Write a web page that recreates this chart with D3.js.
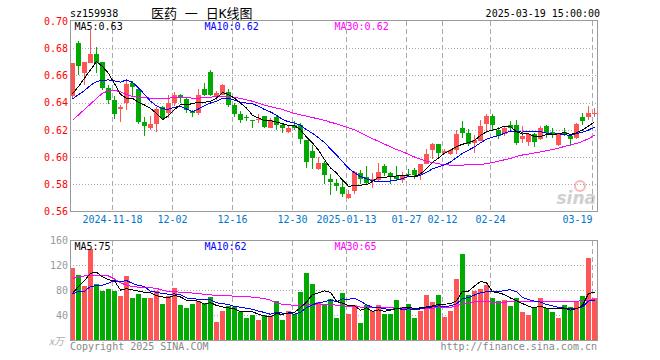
<!DOCTYPE html>
<html lang="zh">
<head>
<meta charset="UTF-8" />
<title>医药 日K线图</title>
<style>
  body { margin: 0; background: #fff; }
  svg { display: block; }
  text { font-family: "DejaVu Sans Mono", "Noto Sans CJK SC", monospace; font-size: 10px; }
  .frame { fill: none; stroke: #999; shape-rendering: crispEdges; }
  .hgrid { stroke: #aaa; stroke-dasharray: 1,2; shape-rendering: crispEdges; }
  .vgrid { stroke: #aaa; stroke-dasharray: 5,3; shape-rendering: crispEdges; }
  .ma { fill: none; stroke-width: 1; shape-rendering: crispEdges; }
  .axis path, .axis line { display: none; }
</style>
</head>
<body>
<svg width="660" height="360"></svg>
<script src="https://cdn.jsdelivr.net/npm/d3@7/dist/d3.min.js"></script>
<script>
// 交易日
const dates = [
  "2024-11-07","2024-11-08","2024-11-11","2024-11-12","2024-11-13","2024-11-14","2024-11-15",
  "2024-11-18","2024-11-19","2024-11-20","2024-11-21","2024-11-22","2024-11-25","2024-11-26",
  "2024-11-27","2024-11-28","2024-11-29","2024-12-02","2024-12-03","2024-12-04","2024-12-05",
  "2024-12-06","2024-12-09","2024-12-10","2024-12-11","2024-12-12","2024-12-13","2024-12-16",
  "2024-12-17","2024-12-18","2024-12-19","2024-12-20","2024-12-23","2024-12-24","2024-12-25",
  "2024-12-26","2024-12-27","2024-12-30","2024-12-31","2025-01-02","2025-01-03","2025-01-06",
  "2025-01-07","2025-01-08","2025-01-09","2025-01-10","2025-01-13","2025-01-14","2025-01-15",
  "2025-01-16","2025-01-17","2025-01-20","2025-01-21","2025-01-22","2025-01-23","2025-01-24",
  "2025-01-27","2025-02-05","2025-02-06","2025-02-07","2025-02-10","2025-02-11","2025-02-12",
  "2025-02-13","2025-02-14","2025-02-17","2025-02-18","2025-02-19","2025-02-20","2025-02-21",
  "2025-02-24","2025-02-25","2025-02-26","2025-02-27","2025-02-28","2025-03-03","2025-03-04",
  "2025-03-05","2025-03-06","2025-03-07","2025-03-10","2025-03-11","2025-03-12","2025-03-13",
  "2025-03-14","2025-03-17","2025-03-18","2025-03-19"
];

const opens = [
  .645,.684,.6616,.669,.6758,.6697,.6506,.642,.6354,.640,.6543,.6501,.6261,.6213,.6244,.6367,
  .6323,.640,.6457,.6426,.6335,.6327,.6499,.6622,.6452,.6458,.6478,.638,.6317,.6297,.6273,.6278,
  .6305,.6214,.6292,.6234,.6185,.6234,.6234,.6122,.6044,.5909,.5953,.5841,.5807,.578,.5702,.5747,
  .5885,.5853,.5834,.5829,.5934,.5885,.5861,.5832,.5875,.5905,.5878,.5946,.6049,.6097,.6029,.6019,
  .6051,.6214,.6178,.6105,.6117,.6244,.630,.6202,.6166,.6234,.6234,.6129,.6112,.6166,.6129,.6227,
  .6183,.6085,.6183,.6153,.6141,.6292,.6292,.6322
];
const highs = [
  .669,.685,.670,.6935,.681,.6697,.653,.6452,.6384,.6567,.6555,.6501,.6293,.6303,.6364,.6377,
  .6457,.6481,.6462,.6433,.6347,.6499,.6543,.6641,.6487,.654,.6502,.6397,.6336,.6312,.6275,.6317,
  .6305,.6285,.6312,.6251,.6234,.6263,.6251,.6122,.6092,.600,.597,.5873,.5841,.5824,.5756,.5899,
  .5902,.5934,.5885,.5958,.5946,.5892,.5934,.5892,.591,.5922,.5946,.6061,.6105,.6097,.6056,.6061,
  .6197,.6268,.6209,.6161,.6275,.6319,.6317,.6222,.6227,.6268,.6275,.6227,.6178,.6178,.6227,.6234,
  .6214,.6178,.6214,.617,.6251,.6324,.6373,.6361
];
const lows = [
  .643,.660,.653,.669,.6616,.6493,.6391,.6279,.6254,.6347,.6452,.6242,.6156,.620,.6187,.6279,
  .6286,.6377,.6396,.6323,.6291,.631,.645,.645,.642,.6458,.6366,.6292,.6251,.6263,.6214,.6251,
  .6214,.6214,.6202,.6178,.6173,.6202,.6097,.5922,.5909,.5904,.580,.5722,.5751,.5709,.569,.5731,
  .580,.580,.577,.5824,.5861,.580,.5824,.5807,.5861,.5836,.5832,.5946,.5983,.600,.6019,.6012,
  .6019,.6141,.608,.6031,.6117,.6178,.6202,.6129,.6153,.6195,.6092,.6105,.608,.6073,.6122,.6141,
  .6141,.608,.6153,.608,.6136,.6239,.6275,.6292
];
const closes = [
  .669,.667,.6697,.676,.669,.6506,.642,.6318,.6371,.6538,.6514,.6261,.623,.6244,.6354,.6286,
  .640,.6457,.6433,.6347,.6323,.6457,.6457,.6457,.647,.6532,.638,.6319,.6275,.6292,.6268,.6282,
  .6219,.6275,.6234,.6214,.6214,.6214,.6129,.5963,.5995,.5953,.5868,.5817,.5787,.5726,.5731,.5887,
  .5836,.5807,.5839,.5892,.5885,.5853,.5836,.5861,.587,.5868,.5946,.6024,.6097,.6031,.6044,.6049,
  .6166,.6178,.6097,.6122,.6231,.630,.6239,.6153,.6214,.6214,.6105,.6158,.6166,.6112,.6214,.6178,
  .6166,.6178,.6166,.6136,.6244,.6268,.6324,.6324
];
// 11-07 之前的收盘价（由均线起点反推）
const preCloses = [.635,.640,.637,.641,.6407,.6405,.6387,.646,.6383];

// 成交量（万手）
const volumes = [
  116,104.5,87,146,90.5,79.3,82,78.7,70.6,103,68,73.4,68,68,78.7,57.8,70,83.5,56.2,51.9,
  57.8,62,60,69,29,46,54,52.5,44.8,35.7,41,32,39.5,38.4,62.6,32,46.5,42.2,77,108.3,
  90.5,60.8,58.2,65.3,35.7,75.9,42.6,56,27.9,56,46.9,56,42.2,42.2,64.2,53.6,58.4,35.7,45.9,72.8,
  60.4,72.8,37.3,46.5,97.5,138.9,72.8,78.2,81.9,88.9,66.8,63,64.7,54.1,66.8,44.8,40,53.6,66.8,50.9,
  44.8,35.7,56,52.5,62.6,70.6,132.4,66.8
];
const preVolumes = [70,80,72,75,71.6,50,40,85,84];

// MA30 读自原图
const priceMa30 = [
  .627,.631,.635,.639,.643,.647,.6485,.649,.648,.646,.6445,.644,.6435,.6433,.6433,.6433,
  .6433,.6435,.6435,.6435,.6433,.6433,.6435,.644,.6445,.6448,.6445,.644,.643,.642,.641,.6395,
  .638,.637,.636,.635,.6335,.632,.631,.630,.629,.628,.627,.6255,.6245,.623,.6215,.620,
  .618,.6155,.6135,.6115,.6095,.6075,.6055,.604,.602,.600,.5985,.597,.596,.595,.5945,.594,
  .594,.594,.5945,.5945,.5945,.5952,.596,.597,.598,.599,.6005,.6015,.6022,.603,.6038,.6046,
  .6055,.6065,.6078,.609,.610,.6115,.6135,.616
];
const volumeMa30 = [
  99,101,103,104.5,104.5,104.5,103,98,92,88,86,85,84.5,84,83,80,78,77.5,77,76.5,
  75.5,74.5,73.5,72.5,72,71.5,71,70.6,70,69.5,69,68,66.5,64,59,57.5,56.5,56,56,56.5,
  57.5,58,57.5,57,56,55,54,53.5,53,52.5,52,52,51.5,51.5,51.4,51.4,51.4,51.4,51.4,51.4,
  51.4,51.6,52,52.5,55,58,60.5,61.2,61.6,61.3,61,60.6,61,61.3,61.6,61.6,61.6,61.6,61.6,61.6,
  61.6,61.6,61.6,62,62.5,63,63.5,65.5
];

const priceTicks = [0.56, 0.58, 0.60, 0.62, 0.64, 0.66, 0.68, 0.70];
const volumeTicks = [40, 80, 120, 160];
const dateTicks = ["2024-11-18","2024-12-02","2024-12-16","2024-12-30","2025-01-13",
  "2025-01-27","2025-02-12","2025-02-24","2025-03-19"];
const dateTickLabels = ["2024-11-18","12-02","12-16","12-30","2025-01-13",
  "01-27","02-12","02-24","03-19"];

const UP = "#ff5555", DOWN = "#00aa00";

// 均线
function movingAvg(values, pre, n) {
  const all = pre.concat(values);
  return values.map((v, i) => {
    const j = i + pre.length;
    return d3.mean(all.slice(j - n + 1, j + 1));
  });
}
const priceMa5 = movingAvg(closes, preCloses, 5);
const priceMa10 = movingAvg(closes, preCloses, 10);
const volumeMa5 = movingAvg(volumes, preVolumes, 5);
const volumeMa10 = movingAvg(volumes, preVolumes, 10);

const svg = d3.select("svg");
const L = 70, R = 597;

const x = d3.scaleLinear().domain([0, dates.length]).range([L, L + 6 * dates.length]);
const bw = 5;
const yP = d3.scaleLinear().domain([0.56, 0.70]).range([211.5, 20.9]);
const yV = d3.scaleLinear().domain([0, 160]).range([340, 240.5]);

const idx = d => dates.indexOf(d);

// 网格
function grid(yScale, ticks, top, bottom) {
  const g = svg.append("g");
  g.selectAll(".hgrid").data(ticks).join("line").attr("class", "hgrid")
    .attr("x1", L).attr("x2", R)
    .attr("y1", d => Math.round(yScale(d)) + 0.5).attr("y2", d => Math.round(yScale(d)) + 0.5);
  g.selectAll(".vgrid").data(dateTicks).join("line").attr("class", "vgrid")
    .attr("x1", d => x(idx(d)) + 0.5).attr("x2", d => x(idx(d)) + 0.5)
    .attr("y1", top).attr("y2", bottom);
}
grid(yP, priceTicks.slice(1, -1), 20.5, 211.5);
grid(yV, volumeTicks.slice(0, -1), 240.5, 340);

// K线
const candles = svg.append("g").attr("shape-rendering", "crispEdges");
const color = i => closes[i] >= opens[i] ? UP : DOWN;
candles.selectAll("line").data(dates).join("line")
  .attr("x1", (d, i) => x(i) + 2.5).attr("x2", (d, i) => x(i) + 2.5)
  .attr("y1", (d, i) => yP(highs[i])).attr("y2", (d, i) => yP(lows[i]))
  .attr("stroke", (d, i) => color(i));
candles.selectAll("rect").data(dates).join("rect")
  .attr("x", (d, i) => x(i)).attr("width", bw)
  .attr("y", (d, i) => yP(Math.max(opens[i], closes[i])))
  .attr("height", (d, i) => Math.max(1, Math.abs(yP(opens[i]) - yP(closes[i]))))
  .attr("fill", (d, i) => color(i));

// 成交量柱
svg.append("g").attr("shape-rendering", "crispEdges")
  .selectAll("rect").data(volumes).join("rect")
  .attr("x", (d, i) => x(i)).attr("width", bw)
  .attr("y", d => yV(d)).attr("height", d => yV(0) - yV(d))
  .attr("fill", (d, i) => color(i));

// 均线
function maLine(values, yScale, stroke) {
  const line = d3.line().x((d, i) => x(i) + 2.5).y(d => yScale(d));
  svg.append("path").attr("class", "ma").attr("d", line(values)).attr("stroke", stroke);
}
maLine(priceMa30, yP, "#ff00ff");
maLine(priceMa10, yP, "#0000ff");
maLine(priceMa5, yP, "#000");
maLine(volumeMa30, yV, "#ff00ff");
maLine(volumeMa10, yV, "#0000ff");
maLine(volumeMa5, yV, "#000");

// 边框
svg.append("rect").attr("class", "frame").attr("x", L + 0.5).attr("y", 20.5).attr("width", R - L).attr("height", 191);
svg.append("rect").attr("class", "frame").attr("x", L + 0.5).attr("y", 240.5).attr("width", R - L).attr("height", 100);

// 坐标轴
const axP = svg.append("g").attr("class", "axis").attr("transform", `translate(${L - 1},0)`)
  .call(d3.axisLeft(yP).tickValues(priceTicks).tickSize(0).tickPadding(1).tickFormat(d3.format(".2f")));
axP.selectAll("text").attr("fill", "#ff0000").style("font-size", "10px").style("font-family", "DejaVu Sans Mono");

const axV = svg.append("g").attr("class", "axis").attr("transform", `translate(${L - 1},0)`)
  .call(d3.axisLeft(yV).tickValues(volumeTicks).tickSize(0).tickPadding(1));
axV.selectAll("text").attr("fill", "#999").style("font-size", "10px").style("font-family", "DejaVu Sans Mono");

const xAxis = d3.scaleLinear().domain([0, dates.length]).range(x.range());
const axX = svg.append("g").attr("class", "axis").attr("transform", "translate(0,213)")
  .call(d3.axisBottom(xAxis).tickValues(dateTicks.map(idx)).tickSize(0).tickPadding(3)
    .tickFormat((d, i) => dateTickLabels[i]));
axX.selectAll("text").attr("fill", "#0077cc").style("font-size", "10px").style("font-family", "DejaVu Sans Mono")
  .attr("text-anchor", (d, i) => i === dateTicks.length - 1 ? "end" : "middle");

// 标题和图例
function label(px, py, str, fill, anchor) {
  svg.append("text").attr("x", px).attr("y", py).attr("dy", "0.35em")
    .attr("fill", fill).attr("text-anchor", anchor || "start").text(str);
}
label(70, 13, "sz159938", "#000");
svg.append("text").attr("x", 151).attr("y", 13).attr("dy", "0.38em")
  .style("font-size", "13px").attr("fill", "#000").text("医药 一 日K线图");
label(600, 13, "2025-03-19 15:00:00", "#000", "end");

const fmt2 = d3.format(".2f");
label(74.5, 26.5, "MA5:" + fmt2(priceMa5[priceMa5.length - 1]), "#000");
label(204.5, 26.5, "MA10:" + fmt2(priceMa10[priceMa10.length - 1]), "#0000ff");
label(334.5, 26.5, "MA30:" + fmt2(priceMa30[priceMa30.length - 1]), "#ff00ff");
label(74.5, 246.5, "MA5:75", "#000");
label(204.5, 246.5, "MA10:62", "#0000ff");
label(334.5, 246.5, "MA30:65", "#ff00ff");

label(70, 346, "Copyright 2025 SINA.COM", "#888");
label(597, 346, "http://finance.sina.com.cn", "#888", "end");
svg.append("text").attr("x", 49).attr("y", 341).attr("dy", "0.35em")
  .style("font-family", "Noto Sans CJK SC").style("font-style", "italic")
  .attr("fill", "#aaa").text("x万");

// 水印
const wm = svg.append("g").attr("opacity", 0.55);
wm.append("circle").attr("cx", 580).attr("cy", 186).attr("r", 5)
  .attr("fill", "none").attr("stroke", "#f08080").attr("stroke-width", 2);
wm.append("text").attr("x", 596).attr("y", 204).attr("text-anchor", "end")
  .style("font-family", "DejaVu Sans").style("font-size", "17px")
  .style("font-style", "italic").style("font-weight", "bold")
  .attr("fill", "#aaa").text("sina");
</script>
</body>
</html>
